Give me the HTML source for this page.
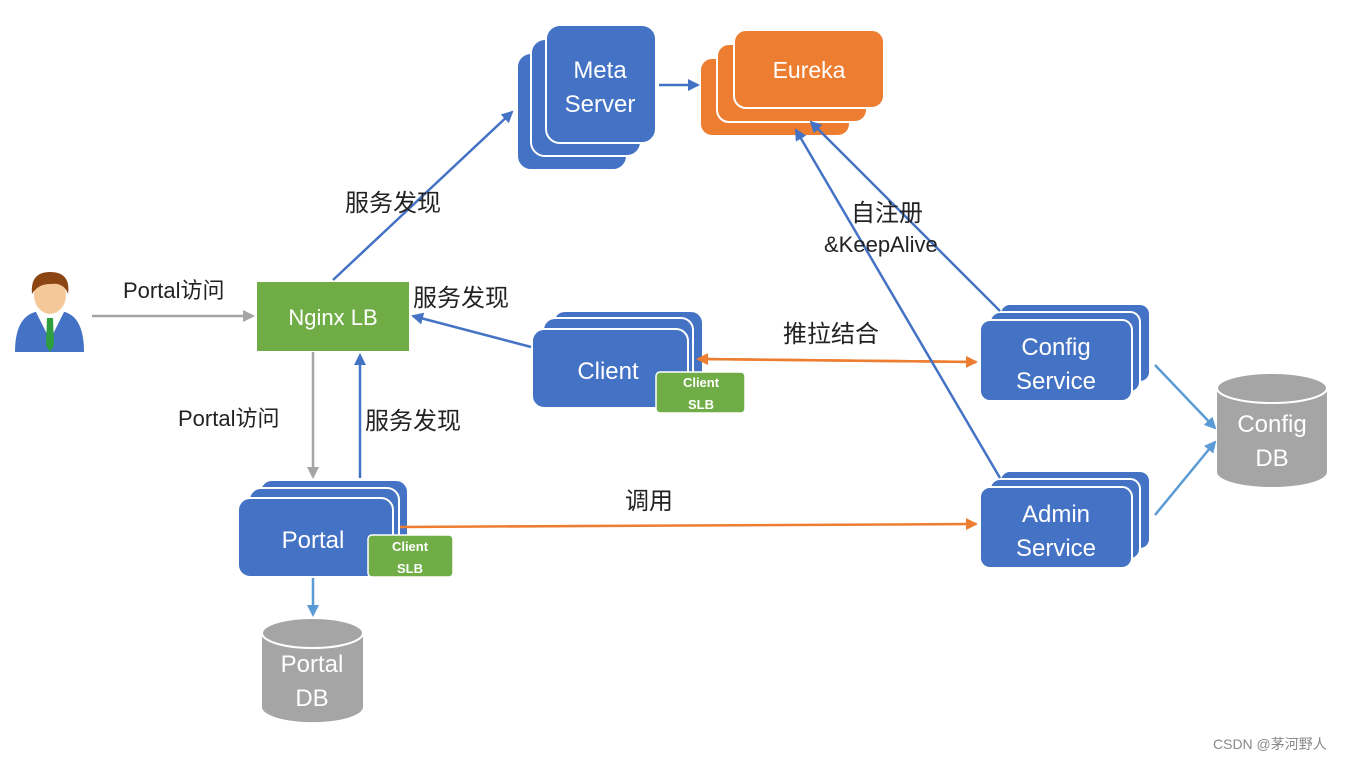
<!DOCTYPE html>
<html><head><meta charset="utf-8"><style>
html,body{margin:0;padding:0;background:#fff;}
svg{display:block;font-family:"Liberation Sans","Noto Sans CJK SC",sans-serif;}
</style></head><body>
<svg width="1365" height="760" viewBox="0 0 1365 760" xmlns="http://www.w3.org/2000/svg">
<defs>
<marker id="ab" markerWidth="12" markerHeight="12" refX="10" refY="6" orient="auto" markerUnits="userSpaceOnUse"><path d="M0,0 L12,6 L0,12 z" fill="#4472C4"/></marker>
<marker id="ag" markerWidth="12" markerHeight="12" refX="10" refY="6" orient="auto" markerUnits="userSpaceOnUse"><path d="M0,0 L12,6 L0,12 z" fill="#A5A5A5"/></marker>
<marker id="ao" markerWidth="12" markerHeight="12" refX="10" refY="6" orient="auto" markerUnits="userSpaceOnUse"><path d="M0,0 L12,6 L0,12 z" fill="#ED7D31"/></marker>
<marker id="abl" markerWidth="12" markerHeight="12" refX="10" refY="6" orient="auto" markerUnits="userSpaceOnUse"><path d="M0,0 L12,6 L0,12 z" fill="#5B9BD5"/></marker>
</defs>

<g fill="#4472C4" stroke="#fff" stroke-width="2">
<rect x="517" y="53" width="110" height="117" rx="14"/>
<rect x="531" y="39" width="110" height="117" rx="14"/>
<rect x="546" y="25" width="110" height="118" rx="14"/>
</g>
<text x="600" y="78" fill="#fff" font-size="24" text-anchor="middle">Meta</text>
<text x="600" y="112" fill="#fff" font-size="24" text-anchor="middle">Server</text>

<g fill="#ED7D31" stroke="#fff" stroke-width="2">
<rect x="700" y="58" width="150" height="78" rx="12"/>
<rect x="717" y="44" width="150" height="78" rx="12"/>
<rect x="734" y="30" width="150" height="78" rx="12"/>
</g>
<text x="809" y="78" fill="#fff" font-size="23" text-anchor="middle">Eureka</text>

<rect x="257" y="282" width="152" height="69" fill="#70AD47"/>
<text x="333" y="325" fill="#fff" font-size="22" text-anchor="middle">Nginx LB</text>

<g fill="#4472C4" stroke="#fff" stroke-width="2">
<rect x="553" y="311" width="150" height="78" rx="12"/>
<rect x="543" y="318" width="150" height="80" rx="12"/>
<rect x="532" y="329" width="156" height="79" rx="12"/>
</g>
<text x="608" y="379" fill="#fff" font-size="24" text-anchor="middle">Client</text>
<rect x="656" y="372" width="89" height="41" rx="4" fill="#70AD47" stroke="#fff" stroke-width="1.5"/>
<text x="701" y="387" fill="#fff" font-size="13" font-weight="bold" text-anchor="middle">Client</text>
<text x="701" y="409" fill="#fff" font-size="13" font-weight="bold" text-anchor="middle">SLB</text>

<g fill="#4472C4" stroke="#fff" stroke-width="2">
<rect x="260" y="480" width="148" height="78" rx="12"/>
<rect x="249" y="488" width="150" height="80" rx="12"/>
<rect x="238" y="498" width="155" height="79" rx="12"/>
</g>
<text x="313" y="548" fill="#fff" font-size="24" text-anchor="middle">Portal</text>
<rect x="368" y="535" width="85" height="42" rx="4" fill="#70AD47" stroke="#fff" stroke-width="1.5"/>
<text x="410" y="551" fill="#fff" font-size="13" font-weight="bold" text-anchor="middle">Client</text>
<text x="410" y="573" fill="#fff" font-size="13" font-weight="bold" text-anchor="middle">SLB</text>

<g fill="#4472C4" stroke="#fff" stroke-width="2">
<rect x="1000" y="304" width="150" height="78" rx="10"/>
<rect x="990" y="312" width="150" height="80" rx="10"/>
<rect x="980" y="320" width="152" height="81" rx="10"/>
</g>
<text x="1056" y="355" fill="#fff" font-size="24" text-anchor="middle">Config</text>
<text x="1056" y="389" fill="#fff" font-size="24" text-anchor="middle">Service</text>

<g fill="#4472C4" stroke="#fff" stroke-width="2">
<rect x="1000" y="471" width="150" height="78" rx="10"/>
<rect x="990" y="479" width="150" height="80" rx="10"/>
<rect x="980" y="487" width="152" height="81" rx="10"/>
</g>
<text x="1056" y="522" fill="#fff" font-size="24" text-anchor="middle">Admin</text>
<text x="1056" y="556" fill="#fff" font-size="24" text-anchor="middle">Service</text>

<path d="M1217,388 L1217,472 A55,15 0 0 0 1327,472 L1327,388" fill="#A5A5A5"/>
<ellipse cx="1272" cy="388" rx="55" ry="15" fill="#A5A5A5" stroke="#fff" stroke-width="2"/>
<text x="1272" y="432" fill="#fff" font-size="24" text-anchor="middle">Config</text>
<text x="1272" y="466" fill="#fff" font-size="24" text-anchor="middle">DB</text>

<path d="M262,633 L262,707 A50,15 0 0 0 363,707 L363,633" fill="#A5A5A5"/>
<ellipse cx="312.5" cy="633" rx="50.5" ry="15" fill="#A5A5A5" stroke="#fff" stroke-width="2"/>
<text x="312" y="672" fill="#fff" font-size="24" text-anchor="middle">Portal</text>
<text x="312" y="706" fill="#fff" font-size="24" text-anchor="middle">DB</text>

<g>
<path d="M15,352 Q15,318 35,312 L65,312 Q84,318 84,352 Z" fill="#4472C4"/>
<path d="M36,312 L50,340 L64,312 Z" fill="#fff"/>
<path d="M47,318 L53,318 L54,345 L50,352 L46,345 Z" fill="#2E9E3E"/>
<ellipse cx="50" cy="295" rx="16" ry="19" fill="#F5C89A"/>
<path d="M32,294 Q30,272 50,272 Q71,272 68,294 Q64,282 50,284 Q38,284 32,294 Z" fill="#8B4513"/>
</g>

<g stroke-width="2.5" fill="none">
<line x1="92" y1="316" x2="253" y2="316" stroke="#A5A5A5" marker-end="url(#ag)"/>
<line x1="333" y1="280" x2="512" y2="112" stroke="#4472C4" marker-end="url(#ab)"/>
<line x1="659" y1="85" x2="698" y2="85" stroke="#4472C4" marker-end="url(#ab)"/>
<line x1="531" y1="347" x2="413" y2="316" stroke="#4472C4" marker-end="url(#ab)"/>
<line x1="313" y1="352" x2="313" y2="477" stroke="#A5A5A5" marker-end="url(#ag)"/>
<line x1="360" y1="478" x2="360" y2="355" stroke="#4472C4" marker-end="url(#ab)"/>
<line x1="313" y1="578" x2="313" y2="615" stroke="#5B9BD5" marker-end="url(#abl)"/>
<line x1="702" y1="359" x2="976" y2="362" stroke="#ED7D31" marker-end="url(#ao)"/>
<line x1="976" y1="362" x2="698" y2="359" stroke="#ED7D31" marker-end="url(#ao)"/>
<line x1="400" y1="527" x2="976" y2="524" stroke="#ED7D31" marker-end="url(#ao)"/>
<line x1="1000" y1="311" x2="811" y2="122" stroke="#4472C4" marker-end="url(#ab)"/>
<line x1="1000" y1="478" x2="796" y2="130" stroke="#4472C4" marker-end="url(#ab)"/>
<line x1="1155" y1="365" x2="1215" y2="428" stroke="#5B9BD5" marker-end="url(#abl)"/>
<line x1="1155" y1="515" x2="1215" y2="442" stroke="#5B9BD5" marker-end="url(#abl)"/>
</g>

<g fill="#222" font-size="24">
<text x="345" y="211">服务发现</text>
<text x="123" y="298" font-size="22">Portal访问</text>
<text x="413" y="306">服务发现</text>
<text x="783" y="342">推拉结合</text>
<text x="851" y="221">自注册</text>
<text x="824" y="252" font-size="22">&amp;KeepAlive</text>
<text x="178" y="426" font-size="22">Portal访问</text>
<text x="365" y="429">服务发现</text>
<text x="625" y="509">调用</text>
</g>
<text x="1213" y="749" fill="#888" font-size="14">CSDN @茅河野人</text>
</svg>
</body></html>
